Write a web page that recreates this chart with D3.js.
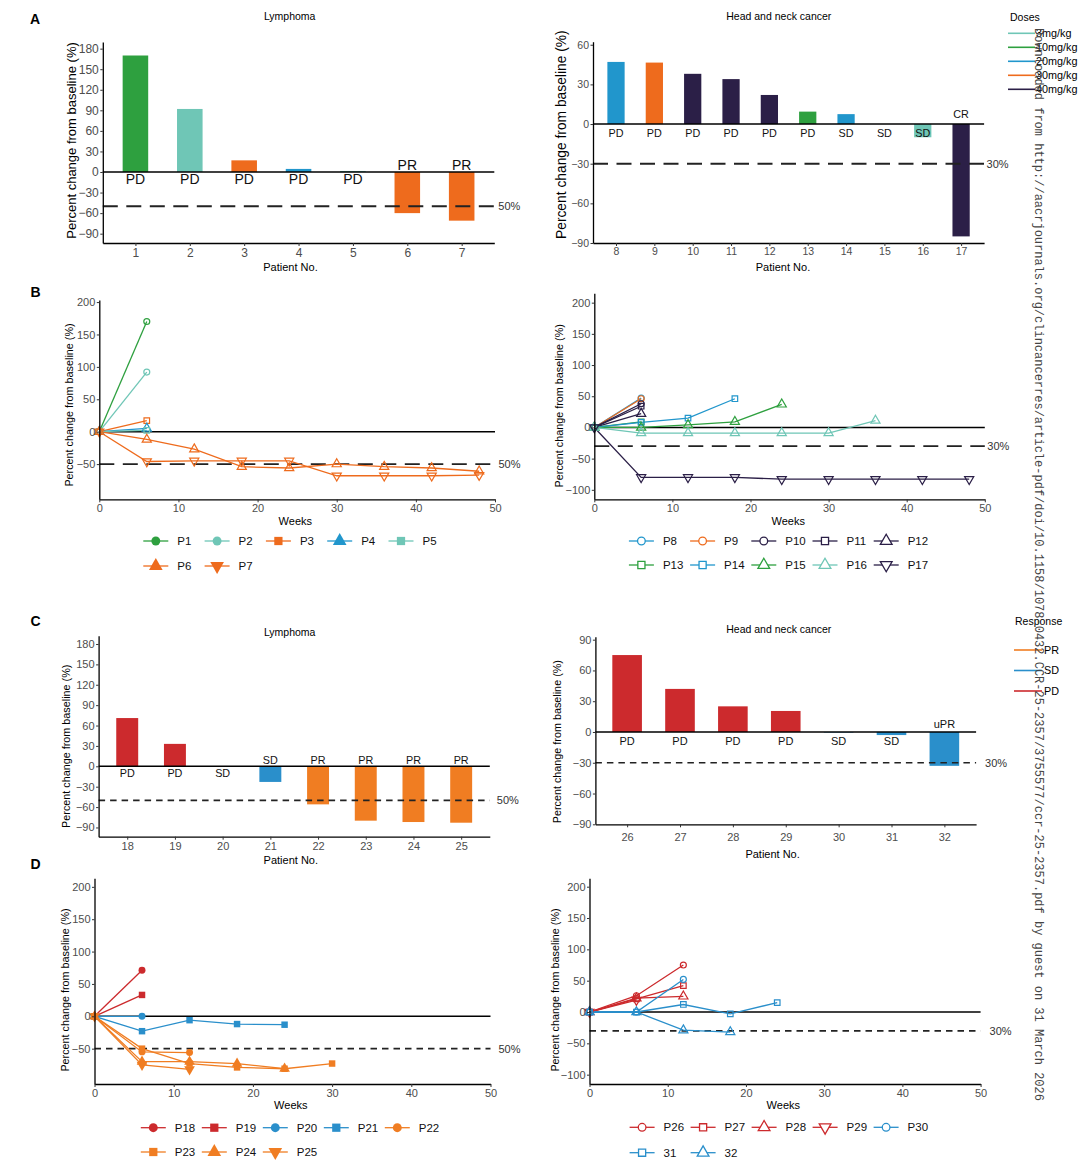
<!DOCTYPE html>
<html>
<head>
<meta charset="utf-8">
<script src="https://cdn.jsdelivr.net/npm/d3@7/dist/d3.min.js"></script>
<style>
  body { margin: 0; background: #fff; }
  svg { display: block; font-family: "Liberation Sans", Arial, sans-serif; }
</style>
</head>
<body>
<script>
// ---------- data ----------
const doseLevels = ["3mg/kg", "10mg/kg", "20mg/kg", "30mg/kg", "40mg/kg"];
const respLevels = ["PR", "SD", "PD"];

// A: best change from baseline by patient, coloured by dose
const lymPatients = ["1", "2", "3", "4", "5", "6", "7"];
const lymChange = [170, 92, 17, 4.5, 1.5, -60, -71];
const lymDose = ["10mg/kg", "3mg/kg", "30mg/kg", "20mg/kg", "3mg/kg", "30mg/kg", "30mg/kg"];
const lymResp = ["PD", "PD", "PD", "PD", "PD", "PR", "PR"];

const hncPatients = ["8", "9", "10", "11", "12", "13", "14", "15", "16", "17"];
const hncChange = [47, 46.5, 38, 34, 22, 9.4, 7.5, 0, -10, -85];
const hncDose = ["20mg/kg", "30mg/kg", "40mg/kg", "40mg/kg", "40mg/kg", "10mg/kg", "20mg/kg", "10mg/kg", "3mg/kg", "40mg/kg"];
const hncResp = ["PD", "PD", "PD", "PD", "PD", "PD", "SD", "SD", "SD", "CR"];

// B: change over time
const lymIds = ["P1", "P2", "P3", "P4", "P5", "P6", "P7"];
const lymWeeks = [[0, 6], [0, 6], [0, 6], [0, 6], [0, 6],
  [0, 6, 12, 18, 24, 30, 36, 42, 48], [0, 6, 12, 18, 24, 30, 36, 42, 48]];
const lymPct = [[0, 170], [0, 92], [0, 17], [0, 5], [0, 2],
  [0, -12, -27, -54, -56, -50, -54, -56, -61], [0, -46, -45, -45, -45, -68, -68, -68, -67]];

const hncIds = ["P8", "P9", "P10", "P11", "P12", "P13", "P14", "P15", "P16", "P17"];
const hncWeeks = [[0, 6], [0, 6], [0, 6], [0, 6], [0, 6], [0, 6], [0, 6, 12, 18],
  [0, 6, 12, 18, 24], [0, 6, 12, 18, 24, 30, 36], [0, 6, 12, 18, 24, 30, 36, 42, 48]];
const hncPct = [[0, 47], [0, 46], [0, 38], [0, 34], [0, 22], [0, 9], [0, 8, 15, 46],
  [0, 0, 4, 9, 37], [0, -9, -9, -9, -9, -9, 11], [0, -80, -80, -80, -83, -83, -83, -83, -83]];

// C: best change, coloured by response
const lym2Patients = ["18", "19", "20", "21", "22", "23", "24", "25"];
const lym2Change = [71, 33, 0, -23, -56, -80, -82, -83];
const lym2Group = ["PD", "PD", "SD", "SD", "PR", "PR", "PR", "PR"];
const lym2Resp = ["PD", "PD", "SD", "SD", "PR", "PR", "PR", "PR"];

const hnc2Patients = ["26", "27", "28", "29", "30", "31", "32"];
const hnc2Change = [75, 42, 25, 20.5, -0.5, -3, -33];
const hnc2Group = ["PD", "PD", "PD", "PD", "SD", "SD", "SD"];
const hnc2Resp = ["PD", "PD", "PD", "PD", "SD", "SD", "uPR"];

// D: change over time
const lym2Ids = ["P18", "P19", "P20", "P21", "P22", "P23", "P24", "P25"];
const lym2Weeks = [[0, 6], [0, 6], [0, 6], [0, 6, 12, 18, 24], [0, 6, 12],
  [0, 6, 12, 18, 24, 30], [0, 6, 12, 18, 24], [0, 6, 12]];
const lym2Pct = [[0, 71], [0, 33], [0, 0], [0, -23, -6, -12, -13], [0, -55, -56],
  [0, -50, -73, -79, -81, -73], [0, -70, -70, -73, -81], [0, -75, -82]];

const hnc2Ids = ["P26", "P27", "P28", "P29", "P30", "31", "32"];
const hnc2Weeks = [[0, 6, 12], [0, 6, 12], [0, 6, 12], [0, 6], [0, 6, 12], [0, 6, 12, 18, 24], [0, 6, 12, 18]];
const hnc2Pct = [[0, 26, 75], [0, 21, 42], [0, 22, 25], [0, 19], [0, 0, 52], [0, 0, 12, -3, 15], [0, 0, -29, -32]];

const weekTicks = [0, 10, 20, 30, 40, 50];

// ---------- styles ----------
const doseColor = d3.scaleOrdinal().domain(doseLevels)
  .range(["#6fc6b6", "#2ea03f", "#2196cc", "#ee6b1d", "#2b1f47"]);
const respColor = d3.scaleOrdinal().domain(respLevels)
  .range(["#f07d22", "#2a8fcb", "#cc2a2d"]);

const shapeType = { circle: d3.symbolCircle, square: d3.symbolSquare, triangle: d3.symbolTriangle, down: d3.symbolTriangle };
const shapesB1 = ["circle", "circle", "square", "triangle", "square", "triangle", "down"];
const shapesB2 = ["circle", "circle", "circle", "square", "triangle", "square", "square", "triangle", "triangle", "down"];
const shapesD1 = ["circle", "square", "circle", "square", "circle", "square", "triangle", "down"];
const shapesD2 = ["circle", "square", "triangle", "down", "circle", "square", "triangle"];
const symSize = { circle: 1, square: 1.1, triangle: 1.3, down: 1.3 };

const svg = d3.select("body").append("svg")
  .attr("width", 1080)
  .attr("height", 1160);

function symPath(shape, size) {
  return d3.symbol().type(shapeType[shape]).size(size * symSize[shape])();
}
function symTransform(shape, x, y) {
  return "translate(" + x + "," + y + ")" + (shape === "down" ? " rotate(180)" : "");
}

function styleAxis(sel, fs) {
  sel.attr("font-size", fs).attr("font-family", null);
  sel.select(".domain").attr("stroke", "#000").attr("stroke-width", 1.3);
  sel.selectAll(".tick line").attr("stroke", "#333");
  sel.selectAll(".tick text").attr("fill", "#4d4d4d");
}

function addText(x, y, str, fs, opts) {
  opts = opts || {};
  return svg.append("text")
    .attr("x", x).attr("y", y)
    .attr("font-size", fs)
    .attr("text-anchor", opts.anchor || "start")
    .attr("font-weight", opts.bold ? "bold" : null)
    .attr("fill", opts.fill || "#000")
    .attr("dy", opts.dy || null)
    .text(str);
}

function yTitle(x, y, fs) {
  svg.append("text")
    .attr("transform", "translate(" + x + "," + y + ") rotate(-90)")
    .attr("text-anchor", "middle")
    .attr("dy", "0.35em")
    .attr("font-size", fs)
    .text("Percent change from baseline (%)");
}

// waterfall panel
function barPanel(o) {
  var g = svg.append("g");
  var x = d3.scalePoint().domain(o.cats).range([o.x0, o.x1]).padding(0.6);
  var y = d3.scaleLinear().domain(o.yDom).range([o.yBot, o.yTop]);
  var bw = x.step() * o.bw;

  g.selectAll("rect")
    .data(o.vals)
    .enter().append("rect")
    .attr("x", function (d, i) { return x(o.cats[i]) - bw / 2; })
    .attr("width", bw)
    .attr("y", function (d) { return y(Math.max(0, d)); })
    .attr("height", function (d) { return Math.abs(y(d) - y(0)); })
    .attr("fill", function (d, i) { return o.fills[i]; });

  g.append("line")
    .attr("x1", o.x0).attr("x2", o.x1)
    .attr("y1", y(0)).attr("y2", y(0))
    .attr("stroke", "#000").attr("stroke-width", 1.4);

  g.append("line")
    .attr("x1", o.x0).attr("x2", o.x1)
    .attr("y1", y(o.thr)).attr("y2", y(o.thr))
    .attr("stroke", "#222").attr("stroke-width", o.dashW)
    .attr("stroke-dasharray", o.dash);
  addText(o.x1 + o.thrDx, y(o.thr), o.thrLabel, 11, { dy: "0.35em", fill: "#333" });

  g.selectAll(".lab")
    .data(o.labels)
    .enter().append("text")
    .attr("class", "lab")
    .attr("x", function (d, i) { return x(o.cats[i]); })
    .attr("y", function (d, i) { return o.vals[i] < -15 ? y(0) - o.labAbove : y(0) + o.labBelow; })
    .attr("text-anchor", "middle")
    .attr("font-size", o.labFs)
    .attr("fill", "#111")
    .text(function (d) { return d; });

  g.append("g")
    .attr("transform", "translate(" + o.x0 + ",0)")
    .call(d3.axisLeft(y).tickValues(o.ticks).tickSize(2.5).tickSizeOuter(0).tickPadding(1.5))
    .call(styleAxis, o.tickFs);
  g.append("g")
    .attr("transform", "translate(0," + o.yBot + ")")
    .call(d3.axisBottom(x).tickSize(3).tickSizeOuter(0).tickPadding(o.xPad || 2))
    .call(styleAxis, o.tickFs);
}

// spider panel
function linePanel(o) {
  var g = svg.append("g");
  var x = d3.scaleLinear().domain([0, 50]).range([o.x0, o.x1]);
  var y = d3.scaleLinear().domain(o.yDom).range([o.yBot, o.yTop]);

  g.append("line")
    .attr("x1", o.x0).attr("x2", o.x1)
    .attr("y1", y(0)).attr("y2", y(0))
    .attr("stroke", "#000").attr("stroke-width", 1.4);
  g.append("line")
    .attr("x1", o.x0).attr("x2", o.x1)
    .attr("y1", y(o.thr)).attr("y2", y(o.thr))
    .attr("stroke", "#222").attr("stroke-width", o.dashW)
    .attr("stroke-dasharray", o.dash);
  addText(o.x1 + o.thrDx, y(o.thr), o.thrLabel, 11, { dy: "0.35em", fill: "#333" });

  var line = d3.line().x(function (d) { return x(d[0]); }).y(function (d) { return y(d[1]); });
  var series = o.ids.map(function (id, i) {
    return { id: id, shape: o.shapes[i], color: o.colors[i],
      pts: o.weeks[i].map(function (w, j) { return [w, o.pct[i][j]]; }) };
  });

  g.selectAll(".ser")
    .data(series)
    .enter().append("path")
    .attr("class", "ser")
    .attr("d", function (s) { return line(s.pts); })
    .attr("fill", "none")
    .attr("stroke", function (s) { return s.color; })
    .attr("stroke-width", 1.3);

  series.forEach(function (s) {
    g.selectAll(null)
      .data(s.pts)
      .enter().append("path")
      .attr("d", symPath(s.shape, o.filled ? 38 : 28))
      .attr("transform", function (d) { return symTransform(s.shape, x(d[0]), y(d[1])); })
      .attr("fill", o.filled ? s.color : "none")
      .attr("stroke", s.color)
      .attr("stroke-width", o.filled ? 0 : 1.2);
  });

  g.append("g")
    .attr("transform", "translate(" + o.x0 + ",0)")
    .call(d3.axisLeft(y).tickValues(o.ticks).tickSize(2.5).tickSizeOuter(0).tickPadding(1.5))
    .call(styleAxis, 11);
  g.append("g")
    .attr("transform", "translate(0," + o.yBot + ")")
    .call(d3.axisBottom(x).tickValues(weekTicks).tickSize(3).tickSizeOuter(0).tickPadding(2))
    .call(styleAxis, 11);

  // legend, five per row
  var leg = g.append("g")
    .selectAll("g")
    .data(series)
    .enter().append("g")
    .attr("transform", function (s, i) {
      return "translate(" + (o.legX + (i % 5) * o.legStep) + "," + o.legY[Math.floor(i / 5)] + ")";
    });
  leg.append("line")
    .attr("x1", -12.5).attr("x2", 12.5)
    .attr("stroke", function (s) { return s.color; })
    .attr("stroke-width", 1.3);
  leg.append("path")
    .attr("d", function (s) { return symPath(s.shape, o.legFilled ? 62 : 46); })
    .attr("transform", function (s) { return s.shape === "down" ? "rotate(180)" : null; })
    .attr("fill", function (s) { return o.legFilled ? s.color : "#fff"; })
    .attr("stroke", function (s) { return s.color; })
    .attr("stroke-width", o.legFilled ? 0 : 1.3);
  leg.append("text")
    .attr("x", 21.5)
    .attr("dy", "0.35em")
    .attr("font-size", 11.5)
    .attr("fill", "#111")
    .text(function (s) { return s.id; });
}

// ---------- A ----------
addText(30, 24, "A", 14, { bold: true });
addText(289.7, 20, "Lymphoma", 10.5, { anchor: "middle" });
barPanel({ cats: lymPatients, vals: lymChange, fills: lymDose.map(doseColor), labels: lymResp,
  x0: 102.8, x1: 494.3, yTop: 42, yBot: 243, yDom: [-103.6, 189.7],
  ticks: [-90, -60, -30, 0, 30, 60, 90, 120, 150, 180], bw: 0.47, tickFs: 12,
  labFs: 14, labBelow: 11.8, labAbove: 1.8,
  thr: -50, thrLabel: "50%", thrDx: 4, dash: "15,8.5", dashW: 1.9 });
yTitle(71, 140.5, 13);
addText(290.5, 270.5, "Patient No.", 11, { anchor: "middle" });

addText(778.8, 20, "Head and neck cancer", 10.5, { anchor: "middle" });
barPanel({ cats: hncPatients, vals: hncChange, fills: hncDose.map(doseColor), labels: hncResp,
  x0: 593, x1: 984.1, yTop: 41.7, yBot: 243, yDom: [-90, 62.3],
  ticks: [-90, -60, -30, 0, 30, 60], bw: 0.45, tickFs: 10.5,
  labFs: 10.8, labBelow: 13, labAbove: 6.3,
  thr: -30, thrLabel: "30%", thrDx: 2.5, dash: "15,8.5", dashW: 1.9 });
yTitle(561.5, 134.7, 13.8);
addText(783, 270.5, "Patient No.", 11, { anchor: "middle" });

// dose legend
addText(1010, 21, "Doses", 10.5);
var doseLeg = svg.append("g").selectAll("g")
  .data(doseLevels)
  .enter().append("g")
  .attr("transform", function (d, i) { return "translate(1008," + (33.3 + i * 14) + ")"; });
doseLeg.append("line").attr("x2", 27).attr("stroke", doseColor).attr("stroke-width", 1.6);
doseLeg.append("text").attr("x", 28).attr("dy", "0.35em").attr("font-size", 10.8).text(function (d) { return d; });

// ---------- B ----------
addText(30.5, 297, "B", 14, { bold: true });
linePanel({ ids: lymIds, weeks: lymWeeks, pct: lymPct, shapes: shapesB1,
  colors: lymIds.map(function (d, i) { return doseColor(lymDose[i]); }), filled: false, legFilled: true,
  x0: 99.3, x1: 495, yTop: 300, yBot: 499.3, yDom: [-104.3, 203.2],
  ticks: [-50, 0, 50, 100, 150, 200],
  thr: -50, thrLabel: "50%", thrDx: 3.5, dash: "15,8.5", dashW: 1.9,
  legX: 155.8, legStep: 61.3, legY: [541, 566] });
yTitle(69.2, 405, 10.8);
addText(295.3, 525, "Weeks", 11, { anchor: "middle" });

linePanel({ ids: hncIds, weeks: hncWeeks, pct: hncPct, shapes: shapesB2,
  colors: hncIds.map(function (d, i) { return doseColor(hncDose[i]); }), filled: false, legFilled: false,
  x0: 594.3, x1: 984.8, yTop: 293.3, yBot: 499.3, yDom: [-115.2, 215],
  ticks: [-100, -50, 0, 50, 100, 150, 200],
  thr: -30, thrLabel: "30%", thrDx: 2.5, dash: "15,8.5", dashW: 1.9,
  legX: 641.4, legStep: 61.2, legY: [541, 565] });
yTitle(559.7, 405.8, 10.8);
addText(788.2, 525, "Weeks", 11, { anchor: "middle" });

// ---------- C ----------
addText(30.5, 626, "C", 14, { bold: true });
addText(289.7, 636, "Lymphoma", 10.5, { anchor: "middle" });
barPanel({ cats: lym2Patients, vals: lym2Change, fills: lym2Group.map(respColor), labels: lym2Resp,
  x0: 98.6, x1: 489.8, yTop: 635.7, yBot: 836.7, yDom: [-103.6, 192.2],
  ticks: [-90, -60, -30, 0, 30, 60, 90, 120, 150, 180], bw: 0.46, tickFs: 11,
  labFs: 10.8, labBelow: 10.6, labAbove: 2,
  thr: -50, thrLabel: "50%", thrDx: 7, dash: "6.5,5", dashW: 1.7, xPad: 3 });
yTitle(66.5, 746.3, 10.8);
addText(290.8, 864, "Patient No.", 11, { anchor: "middle" });

addText(778.8, 633, "Head and neck cancer", 10.5, { anchor: "middle" });
barPanel({ cats: hnc2Patients, vals: hnc2Change, fills: hnc2Group.map(respColor), labels: hnc2Resp,
  x0: 595.4, x1: 976.1, yTop: 636.7, yBot: 824.3, yDom: [-90, 92.9],
  ticks: [-90, -60, -30, 0, 30, 60, 90], bw: 0.56, tickFs: 11,
  labFs: 11, labBelow: 13, labAbove: 3.7,
  thr: -30, thrLabel: "30%", thrDx: 9, dash: "6.5,5", dashW: 1.7, xPad: 6 });
yTitle(557.3, 741.7, 10.8);
addText(772.6, 858, "Patient No.", 11, { anchor: "middle" });

// response legend
addText(1015, 625, "Response", 10.5);
var respLeg = svg.append("g").selectAll("g")
  .data(respLevels)
  .enter().append("g")
  .attr("transform", function (d, i) { return "translate(1014," + (650 + i * 20.5) + ")"; });
respLeg.append("line").attr("x2", 28).attr("stroke", respColor).attr("stroke-width", 1.6);
respLeg.append("text").attr("x", 30).attr("dy", "0.35em").attr("font-size", 10.8).text(function (d) { return d; });

// ---------- D ----------
addText(30.5, 869, "D", 14, { bold: true });
linePanel({ ids: lym2Ids, weeks: lym2Weeks, pct: lym2Pct, shapes: shapesD1,
  colors: lym2Group.map(respColor), filled: true, legFilled: true,
  x0: 94.5, x1: 490.5, yTop: 878.3, yBot: 1084, yDom: [-104.6, 213.2],
  ticks: [-50, 0, 50, 100, 150, 200],
  thr: -50, thrLabel: "50%", thrDx: 8, dash: "6.5,5", dashW: 1.7,
  legX: 153.3, legStep: 61, legY: [1127.7, 1152] });
yTitle(65.1, 990, 10.8);
addText(290.8, 1109, "Weeks", 11, { anchor: "middle" });

linePanel({ ids: hnc2Ids, weeks: hnc2Weeks, pct: hnc2Pct, shapes: shapesD2,
  colors: hnc2Group.map(respColor), filled: false, legFilled: false,
  x0: 589.5, x1: 980.6, yTop: 878.3, yBot: 1084, yDom: [-114.9, 213.4],
  ticks: [-100, -50, 0, 50, 100, 150, 200],
  thr: -30, thrLabel: "30%", thrDx: 9, dash: "6.5,5", dashW: 1.7,
  legX: 642.1, legStep: 61, legY: [1127.3, 1152.7] });
yTitle(555.6, 990, 10.8);
addText(783.3, 1109, "Weeks", 11, { anchor: "middle" });

// download stamp along the right edge
svg.append("text")
  .attr("transform", "translate(1039,28) rotate(90)")
  .attr("dy", "0.35em")
  .attr("font-family", "'Liberation Mono', 'DejaVu Sans Mono', monospace")
  .attr("font-size", 12)
  .attr("fill", "#444")
  .text("Downloaded from http://aacrjournals.org/clincancerres/article-pdf/doi/10.1158/1078-0432.CCR-25-2357/3755577/ccr-25-2357.pdf by guest on 31 March 2026");
</script>
</body>
</html>
